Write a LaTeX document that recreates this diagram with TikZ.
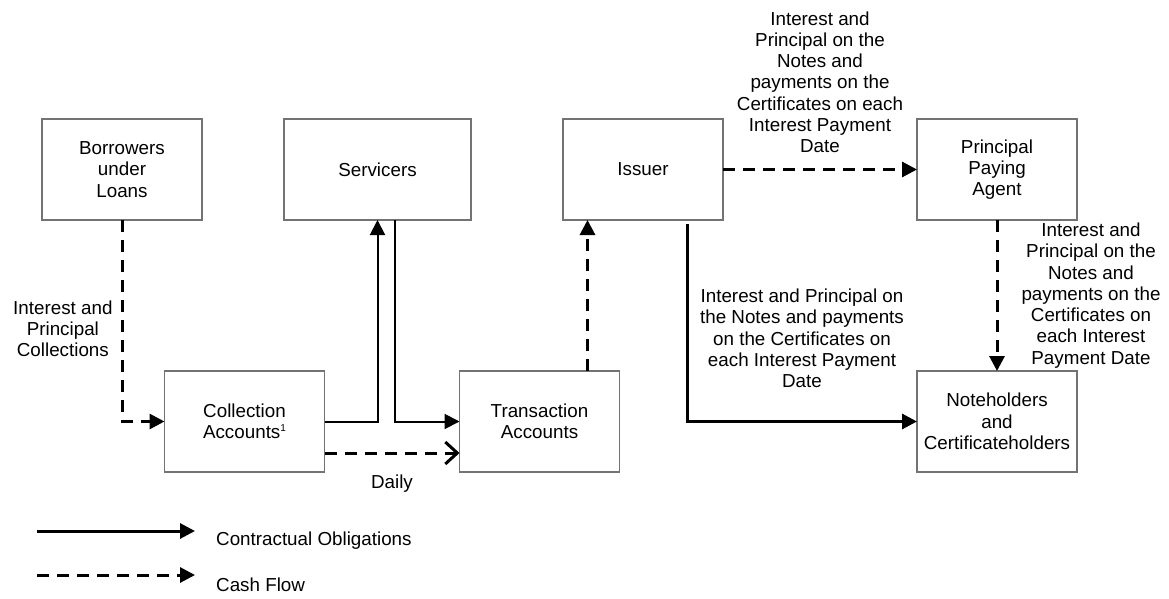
\documentclass[tikz,border=0pt]{standalone}
\usepackage{fontspec}
\setmainfont{Liberation Sans}
\usetikzlibrary{arrows.meta, positioning}

\begin{document}
\begin{tikzpicture}[
    x=1pt, y=-1pt,
    every node/.style={font=\fontsize{18.8}{21.3}\selectfont},
    party/.style={rectangle, draw=black!55, line width=1.5pt, minimum width=160pt, minimum height=101pt, align=center, outer sep=0pt, inner sep=2pt},
    oblig/.style={-{Triangle[length=15pt, width=15pt]}, line width=2pt},
    cash/.style={-{Triangle[length=15pt, width=15pt]}, line width=3pt, dash pattern=on 12pt off 8pt},
    lbl/.style={align=center, inner sep=0pt}
]
\useasboundingbox (0,0) rectangle (1169,599);

\node[party] (borrow) at (122,169.5) {Borrowers\\under\\Loans};
\node[party, minimum width=187pt, right=82pt of borrow] (serv) {Servicers};
\node[party, right=92pt of serv] (issuer) {Issuer};
\node[party, right=194pt of issuer] (ppa) {Principal\\Paying\\Agent};
\node[party] (coll) at (244.5,421.5) {Collection\\Accounts\raisebox{7pt}{\fontsize{10}{10}\selectfont 1}};
\node[party, right=135pt of coll] (trans) {Transaction\\Accounts};
\node[party, below=151pt of ppa] (noteh) {Noteholders\\and\\Certificateholders};

% collections and servicing
\draw[cash] (borrow.south) |- node[pos=0.27, left=8pt, lbl] {Interest and\\Principal\\Collections} (coll.west);
\draw[oblig] (coll.east) -| (serv.south);
\draw[oblig] ([xshift=17pt]serv.south) |- (trans.west);
\draw[cash, -{Straight Barb[length=12pt, width=22pt]}] ([yshift=-31.5pt]coll.east) -- node[below=20pt, lbl] {Daily} ([yshift=-31.5pt]trans.west);

\coordinate (tup) at ([xshift=48pt]trans.north);
\draw[cash] (tup) -- (tup |- issuer.south);

% payments
\draw[cash] (issuer.east) -- node[above=15pt, lbl] {Interest and\\Principal on the\\Notes and\\payments on the\\Certificates on each\\Interest Payment\\Date} (ppa.west);
\draw[oblig, line width=3pt] ([xshift=44pt, yshift=-4pt]issuer.south) |- node[pos=0.75, above=32pt, lbl] {Interest and Principal on\\the Notes and payments\\on the Certificates on\\each Interest Payment\\Date} (noteh.west);
\draw[cash] (ppa) -- node[right=23pt, lbl] {Interest and\\Principal on the\\Notes and\\payments on the\\Certificates on\\each Interest\\Payment Date} (noteh);

% legend
\coordinate (solA) at (37,531);
\coordinate (solB) at (195,531);
\coordinate (dshA) at (37,575);
\coordinate (dshB) at (195,575);
\draw[oblig, line width=3pt] (solA) -- (solB);
\draw[cash] (dshA) -- (dshB);
\node[lbl, anchor=west] (legsol) at (216,541) {Contractual Obligations};
\node[lbl, anchor=west] (legcash) at (216,585) {Cash Flow};

\end{tikzpicture}
\end{document}
